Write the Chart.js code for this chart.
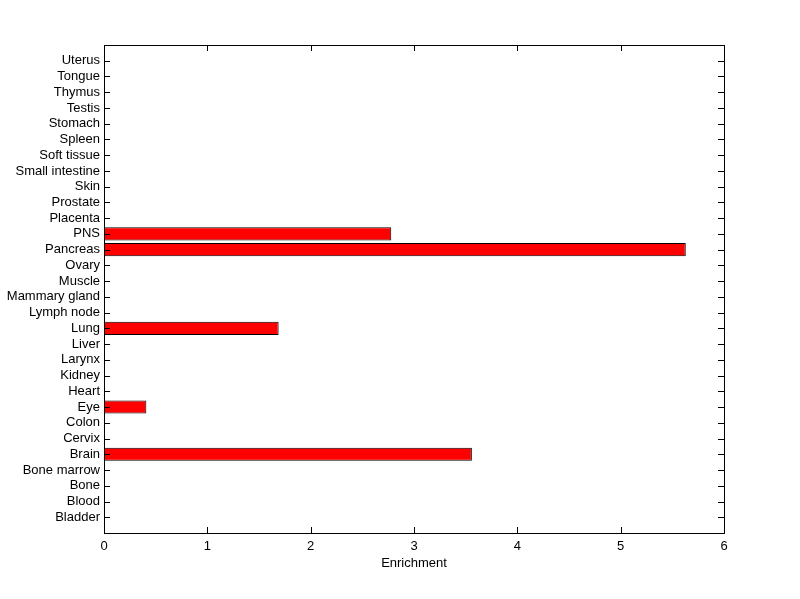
<!DOCTYPE html>
<html>
<head>
<meta charset="utf-8">
<script src="https://cdn.jsdelivr.net/npm/chart.js@4"></script>
<style>
  html, body { margin: 0; padding: 0; background: #fff; }
  #wrap { width: 800px; height: 599px; }
</style>
</head>
<body>
<div id="wrap"><canvas id="chart"></canvas></div>
<script>
// tejidos, de abajo (1) hacia arriba (30)
const tissues = ['Bladder', 'Blood', 'Bone', 'Bone marrow', 'Brain', 'Cervix', 'Colon', 'Eye',
  'Heart', 'Kidney', 'Larynx', 'Liver', 'Lung', 'Lymph node', 'Mammary gland', 'Muscle',
  'Ovary', 'Pancreas', 'PNS', 'Placenta', 'Prostate', 'Skin', 'Small intestine',
  'Soft tissue', 'Spleen', 'Stomach', 'Testis', 'Thymus', 'Tongue', 'Uterus'];
const enrichment = [0, 0, 0, 0, 3.56, 0, 0, 0.41, 0, 0, 0, 0, 1.69, 0, 0, 0,
  0, 5.63, 2.78, 0, 0, 0, 0, 0, 0, 0, 0, 0, 0, 0];
const xTicks = [0, 1, 2, 3, 4, 5, 6];

const FONT = { family: 'Liberation Sans, Arial, sans-serif', size: 13 };

// Marco y marcas hacia dentro (estilo MATLAB)
const boxTicks = {
  id: 'boxTicks',
  afterDraw(chart) {
    const { ctx, chartArea: a, scales } = chart;
    const len = 6;
    ctx.save();
    ctx.strokeStyle = '#000';
    ctx.lineWidth = 1;
    ctx.beginPath();
    xTicks.forEach(v => {
      const px = Math.round(scales.x.getPixelForValue(v)) + 0.5;
      ctx.moveTo(px, a.bottom); ctx.lineTo(px, a.bottom - len);
      ctx.moveTo(px, a.top); ctx.lineTo(px, a.top + len);
    });
    tissues.forEach((t, i) => {
      const py = Math.round(scales.y.getPixelForValue(i + 1)) + 0.5;
      ctx.moveTo(a.left, py); ctx.lineTo(a.left + len, py);
      ctx.moveTo(a.right, py); ctx.lineTo(a.right - len, py);
    });
    ctx.stroke();
    ctx.strokeRect(Math.round(a.left) + 0.5, Math.round(a.top) + 0.5,
      Math.round(a.right - a.left), Math.round(a.bottom - a.top));
    ctx.restore();
  }
};

new Chart(document.getElementById('chart'), {
  type: 'bar',
  data: {
    datasets: [{
      data: enrichment.map((v, i) => ({ x: v, y: i + 1 })),
      backgroundColor: '#ff0000',
      borderColor: '#000000',
      borderWidth: 1,
      borderSkipped: false,
      barPercentage: 0.83,
      categoryPercentage: 1
    }]
  },
  options: {
    indexAxis: 'y',
    responsive: true,
    maintainAspectRatio: false,
    animation: false,
    layout: { padding: { left: 0, right: 76, top: 45, bottom: 0 } },
    plugins: { legend: { display: false }, tooltip: { enabled: false } },
    scales: {
      x: {
        type: 'linear',
        min: 0, max: 6,
        grid: { display: false, drawTicks: false },
        border: { display: false },
        afterBuildTicks: s => { s.ticks = xTicks.map(v => ({ value: v })); },
        afterFit: s => { s.height = 66; },
        ticks: { color: '#000', font: FONT, padding: 6 },
        title: { display: true, text: 'Enrichment', color: '#000', font: FONT, padding: { top: 0, bottom: 28 } }
      },
      y: {
        type: 'linear',
        min: 0, max: 31,
        offset: false,
        grid: { display: false, drawTicks: false, offset: false },
        border: { display: false },
        afterBuildTicks: s => { s.ticks = tissues.map((t, i) => ({ value: i + 1 })); },
        afterFit: s => { s.width = 104; },
        ticks: { color: '#000', font: FONT, padding: 4, autoSkip: false,
          callback: v => tissues[v - 1] || '' }
      }
    }
  },
  plugins: [boxTicks]
});
</script>
</body>
</html>
